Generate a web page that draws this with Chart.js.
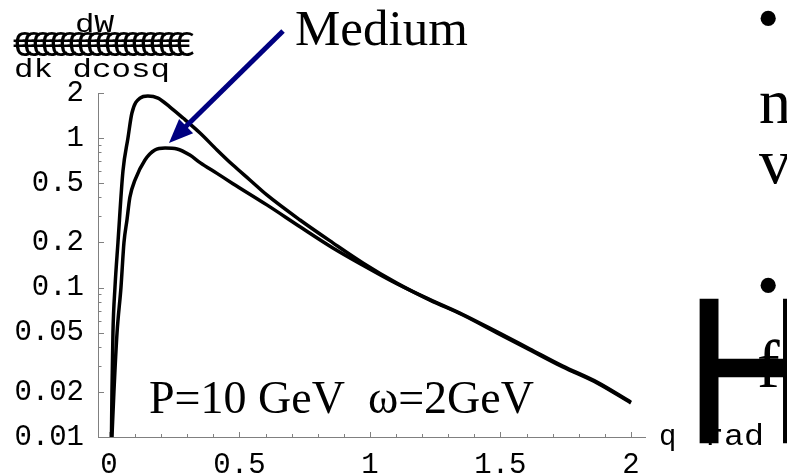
<!DOCTYPE html>
<html>
<head>
<meta charset="utf-8">
<script src="https://cdn.jsdelivr.net/npm/chart.js@4.4.1/dist/chart.umd.min.js"></script>
<style>
  html, body { margin: 0; padding: 0; background: #ffffff; overflow: hidden; }
  #wrap { width: 787px; height: 475px; position: relative; }
  canvas { display: block; }
</style>
</head>
<body>
<div id="wrap"><canvas id="c" width="787" height="475"></canvas></div>
<script>
// Angular spectrum dW/(dk dcosθ) versus θ (rad), P = 10 GeV, ω = 2 GeV
const vacuumTheta = [0.0096, 0.0115, 0.0153, 0.023, 0.0345, 0.0536, 0.0728, 0.088, 0.119, 0.149, 0.188, 0.234, 0.284, 0.349, 0.414, 0.475, 0.540, 0.605, 0.732, 0.858, 0.973, 1.103, 1.230, 1.356, 1.487, 1.613, 1.739, 1.870, 2.0];
const vacuumRate  = [0.01, 0.02, 0.05, 0.1, 0.2, 0.6, 1.0, 1.47, 1.85, 1.91, 1.85, 1.61, 1.36, 1.08, 0.832, 0.659, 0.524, 0.416, 0.283, 0.199, 0.146, 0.107, 0.0824, 0.0655, 0.0497, 0.0382, 0.0294, 0.0230, 0.0169];

const mediumTheta = [0.0115, 0.019, 0.031, 0.046, 0.0575, 0.069, 0.080, 0.100, 0.138, 0.176, 0.215, 0.261, 0.310, 0.349, 0.414, 0.475, 0.605, 0.732, 0.858, 0.973, 1.103, 1.230, 1.356, 1.487, 1.613, 1.739, 1.870, 2.0];
const mediumRate  = [0.01, 0.02, 0.05, 0.1, 0.2, 0.283, 0.40, 0.524, 0.713, 0.832, 0.857, 0.845, 0.769, 0.685, 0.580, 0.495, 0.357, 0.255, 0.184, 0.141, 0.106, 0.0830, 0.066, 0.0505, 0.0388, 0.0298, 0.0233, 0.0171];

const xTickValues = [0, 0.5, 1, 1.5, 2];
const xTickLabels = ['0', '0.5', '1', '1.5', '2'];
const xMinorTicks = [0.1, 0.2, 0.3, 0.4, 0.6, 0.7, 0.8, 0.9, 1.1, 1.2, 1.3, 1.4, 1.6, 1.7, 1.8, 1.9];
const yTickValues = [0.01, 0.02, 0.05, 0.1, 0.2, 0.5, 1, 2];
const yTickLabels = ['0.01', '0.02', '0.05', '0.1', '0.2', '0.5', '1', '2'];
const yMinorTicks = [0.03, 0.04, 0.06, 0.07, 0.08, 0.09, 0.3, 0.4, 0.6, 0.7, 0.8, 0.9];

const arrowTip  = { x: 0.23, y: 0.926 };
const arrowTail = { x: 0.667, y: 5.2 };

const AXIS_GRAY = '#808080';
const MONO = '"Liberation Mono", "DejaVu Sans Mono", monospace';
const SERIF = '"Liberation Serif", "DejaVu Serif", serif';

const toPoints = (xs, ys) => xs.map((x, i) => ({ x: x, y: ys[i] }));

// inner tick marks, arrow and free text on the canvas
const decor = {
  id: 'decor',
  afterDatasetsDraw(chart) {
    const ctx = chart.ctx;
    const xs = chart.scales.x, ys = chart.scales.y;
    const area = chart.chartArea;
    ctx.save();
    ctx.strokeStyle = AXIS_GRAY;
    ctx.lineWidth = 1;
    ctx.beginPath();
    yTickValues.forEach(v => { const p = Math.round(ys.getPixelForValue(v)) + 0.5; ctx.moveTo(area.left, p); ctx.lineTo(area.left + 6, p); });
    yMinorTicks.forEach(v => { const p = Math.round(ys.getPixelForValue(v)) + 0.5; ctx.moveTo(area.left, p); ctx.lineTo(area.left + 3.5, p); });
    xTickValues.forEach(v => { const p = Math.round(xs.getPixelForValue(v)) + 0.5; ctx.moveTo(p, area.bottom); ctx.lineTo(p, area.bottom - 5); });
    xMinorTicks.forEach(v => { const p = Math.round(xs.getPixelForValue(v)) + 0.5; ctx.moveTo(p, area.bottom); ctx.lineTo(p, area.bottom - 3); });
    ctx.stroke();

    // arrow pointing at the medium curve
    const tx = xs.getPixelForValue(arrowTip.x), ty = ys.getPixelForValue(arrowTip.y);
    const sx = xs.getPixelForValue(arrowTail.x), sy = ys.getPixelForValue(arrowTail.y);
    const ang = Math.atan2(ty - sy, tx - sx);
    const headLen = 24, headHalf = 10;
    const bx = tx - headLen * Math.cos(ang), by = ty - headLen * Math.sin(ang);
    ctx.strokeStyle = '#000080';
    ctx.fillStyle = '#000080';
    ctx.lineWidth = 5;
    ctx.lineCap = 'butt';
    ctx.beginPath();
    ctx.moveTo(sx, sy);
    ctx.lineTo(bx + 4 * Math.cos(ang), by + 4 * Math.sin(ang));
    ctx.stroke();
    ctx.beginPath();
    ctx.moveTo(tx, ty);
    ctx.lineTo(bx + headHalf * Math.sin(ang), by - headHalf * Math.cos(ang));
    ctx.lineTo(bx - headHalf * Math.sin(ang), by + headHalf * Math.cos(ang));
    ctx.closePath();
    ctx.fill();
    ctx.restore();
  },
  afterDraw(chart) {
    const ctx = chart.ctx;
    ctx.save();
    ctx.fillStyle = '#000';
    ctx.strokeStyle = '#000';
    ctx.textBaseline = 'alphabetic';
    ctx.textAlign = 'left';

    const stretched = (txt, x, y, size, sx, family, outline) => {
      ctx.save();
      ctx.translate(x, y);
      ctx.scale(sx, 1);
      ctx.font = size + 'px ' + (family || MONO);
      ctx.fillText(txt, 0, 0);
      if (outline) { ctx.lineWidth = outline; ctx.strokeText(txt, 0, 0); }
      ctx.restore();
    };

    // y-axis caption: dW over dk dcosθ
    stretched('dW', 75, 32, 25, 1.3);
    ctx.save();
    ctx.font = '36px ' + MONO;
    ctx.letterSpacing = '-12.6px';
    ctx.fillText('€'.repeat(19), 12, 56);
    ctx.restore();
    stretched('dk dcosq', 14, 77, 25, 1.3);

    // annotations
    ctx.font = '51px ' + SERIF;
    ctx.fillText('Medium', 295, 45);
    ctx.font = '46px ' + SERIF;
    ctx.fillText('P=10 GeV  \u03c9=2GeV', 149, 413);

    // x-axis caption
    ctx.font = '29px ' + MONO;
    ctx.fillText('q', 659, 445);
    stretched('rad', 704, 445, 29, 1.15);

    // text running in from the right
    ctx.font = '64px ' + SERIF;
    ctx.fillText('\u2022', 757, 40);
    ctx.fillText('n', 759, 123);
    ctx.fillText('v', 759, 183);
    ctx.fillText('\u2022', 757, 307);
    ctx.font = '68px ' + SERIF;
    ctx.fillText('f', 757, 387);

    // large letter on top
    stretched('H', 686, 442, 206, 0.87, '"Liberation Sans", Arial, sans-serif', 2.5);

    ctx.restore();
  }
};

new Chart(document.getElementById('c'), {
  type: 'line',
  data: {
    datasets: [
      { label: 'Vacuum', data: toPoints(vacuumTheta, vacuumRate), borderColor: '#000', borderWidth: 3.5, pointRadius: 0, fill: false, cubicInterpolationMode: 'monotone' },
      { label: 'Medium', data: toPoints(mediumTheta, mediumRate), borderColor: '#000', borderWidth: 3.5, pointRadius: 0, fill: false, cubicInterpolationMode: 'monotone' }
    ]
  },
  options: {
    responsive: false,
    devicePixelRatio: 1,
    animation: false,
    events: [],
    layout: { padding: { top: 93, right: 142, bottom: 0, left: 0 } },
    plugins: { legend: { display: false }, tooltip: { enabled: false }, title: { display: false } },
    scales: {
      x: {
        type: 'linear',
        position: 'bottom',
        min: -0.042,
        max: 2.054,
        grid: { display: false, drawTicks: false },
        border: { display: true, color: AXIS_GRAY, width: 1 },
        ticks: {
          color: '#000',
          font: { family: MONO, size: 29 },
          padding: 11,
          maxRotation: 0,
          autoSkip: false,
          callback: v => xTickLabels[xTickValues.indexOf(v)]
        },
        afterBuildTicks: s => { s.ticks = xTickValues.map(v => ({ value: v })); },
        afterFit: s => { s.height = 38; }
      },
      y: {
        type: 'logarithmic',
        position: 'left',
        min: 0.01,
        max: 2,
        grid: { display: false, drawTicks: false },
        border: { display: true, color: AXIS_GRAY, width: 1 },
        ticks: {
          color: '#000',
          font: { family: MONO, size: 29 },
          padding: 14,
          autoSkip: false,
          callback: v => yTickLabels[yTickValues.indexOf(v)]
        },
        afterBuildTicks: s => { s.ticks = yTickValues.map(v => ({ value: v })); },
        afterFit: s => { s.width = 98; }
      }
    }
  },
  plugins: [decor]
});
</script>
</body>
</html>
